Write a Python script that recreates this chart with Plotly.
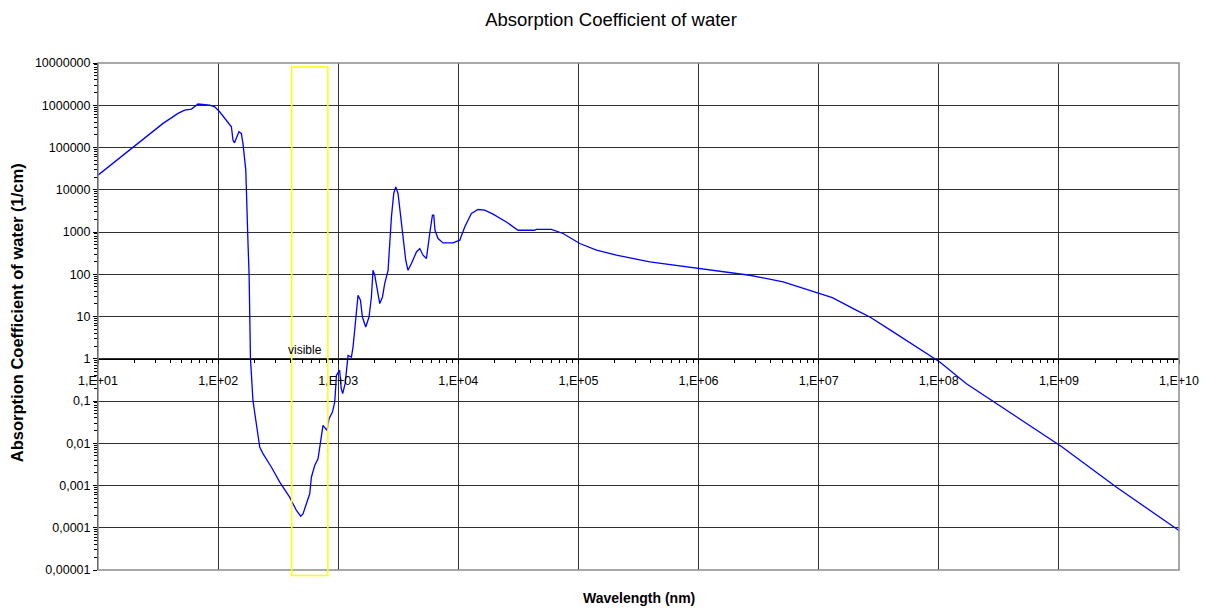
import plotly.graph_objects as go

# ---- data (wavelength in nm, absorption in 1/cm) ----
wavelength_nm = [
    10, 13.8, 19.6, 24.5, 34.8, 46.4, 52.7, 60.0, 68.0, 85.1,
    93.7, 103, 117, 129, 133, 137, 149, 156, 161, 166,
    170, 172, 174, 177, 181, 183, 186, 195, 208, 222,
    237, 278, 326, 394, 449, 487, 509, 544, 579, 598,
    637, 679, 702, 724, 747, 807, 838, 895, 935, 953,
    966, 1000, 1028, 1059, 1089, 1143, 1177, 1207, 1288, 1328,
    1371, 1418, 1462, 1531, 1590, 1694, 1805, 1889, 1949, 2014,
    2104, 2217, 2336, 2438, 2600, 2685, 2774, 2899, 3012, 3148,
    3296, 3466, 3648, 3811, 4070, 4480, 4773, 5085, 5425, 5779,
    6086, 6238, 6395, 6776, 7462, 9036, 10280, 11300, 12850, 14590,
    16590, 19450, 25120, 31410, 43250, 44670, 59540, 74470, 102600, 141300,
    207000, 392600, 1.023e6, 2.67e6, 5.06e6, 1.02e7, 1.30e7, 2.07e7, 2.67e7, 3.9e7,
    5.38e7, 7.2e7, 1.02e8, 1.70e8, 3.02e8, 1.05e9, 3.02e9, 1.0e10,
]
absorption_per_cm = [
    22200, 45800, 100500, 164000, 372000, 643000, 769000, 813000, 1.07e6, 1.01e6,
    921000, 701000, 446000, 310000, 150000, 129000, 236000, 216000, 125000, 60200,
    29100, 9790, 1590, 640, 104, 14.0, 1.0, 0.103, 0.029, 0.0081,
    0.0056, 0.0027, 0.0012, 0.00053, 0.000256, 0.000187, 0.000213, 0.000368, 0.000636, 0.00157,
    0.00298, 0.0043, 0.0081, 0.0168, 0.0264, 0.0201, 0.0381, 0.0546, 0.094, 0.213,
    0.404, 0.476, 0.531, 0.199, 0.149, 0.261, 0.778, 1.20, 1.10, 1.89,
    4.71, 11.7, 31.8, 24.2, 9.73, 5.64, 9.73, 29.0, 124, 94.7,
    41.8, 20.2, 29.0, 60.2, 124, 534, 2280, 8170, 11700, 8170,
    2740, 640, 215, 124, 179, 337, 406, 282, 235, 921,
    2500, 2500, 1100, 701, 552, 552, 640, 1320, 2740, 3410,
    3290, 2640, 1730, 1100, 1100, 1160, 1160, 921, 534, 371,
    282, 196, 134, 94.7, 65.7, 35.5, 28.0, 14.0, 9.73, 4.9,
    2.73, 1.6, 0.835, 0.257, 0.0863, 0.0084, 0.00091, 0.000086,
]

x_tick_values = [1e1, 1e2, 1e3, 1e4, 1e5, 1e6, 1e7, 1e8, 1e9, 1e10]
x_tick_labels = ["1,E+01", "1,E+02", "1,E+03", "1,E+04", "1,E+05",
                 "1,E+06", "1,E+07", "1,E+08", "1,E+09", "1,E+10"]
y_tick_values = [1e-5, 1e-4, 1e-3, 1e-2, 1e-1, 1, 10, 100, 1e3, 1e4, 1e5, 1e6, 1e7]
y_tick_labels = ["0,00001", "0,0001", "0,001", "0,01", "0,1", "1", "10", "100",
                 "1000", "10000", "100000", "1000000", "10000000"]

visible_band_nm = [410, 820]
visible_label = "visible"

chart_title = "Absorption Coefficient of water"
x_title = "Wavelength (nm)"
y_title = "Absorption Coefficient of water (1/cm)"

# minor tick positions (2..9 in each decade)
x_minor = [m * 10 ** e for e in range(1, 10) for m in range(2, 10)]
y_minor = [m * 10.0 ** e for e in range(-5, 7) for m in range(2, 10)]

FONT = "Liberation Sans, Arial, sans-serif"

# the page body adds an 8 px margin, so the figure is sized to fit the window
W, H = 1203, 600
ML, MR, MT, MB = 90, 30, 55, 38
PW, PH = W - ML - MR, H - MT - MB

fig = go.Figure()
fig.add_trace(go.Scatter(
    x=wavelength_nm, y=absorption_per_cm, mode="lines",
    line=dict(color="#0000FF", width=1.3), showlegend=False,
    hoverinfo="skip",
))

fig.update_layout(
    width=W, height=H,
    margin=dict(l=ML, r=MR, t=MT, b=MB, pad=0),
    paper_bgcolor="white", plot_bgcolor="white",
    font=dict(family=FONT, color="black", size=12),
    title=dict(text=chart_title, x=603 / W, xref="container", xanchor="center",
               y=1 - 12 / H, yref="container", yanchor="middle",
               font=dict(family=FONT, size=18.5, color="black")),
    xaxis=dict(
        type="log", range=[1, 10], tickmode="array",
        tickvals=x_tick_values, ticktext=x_tick_labels,
        showgrid=True, gridcolor="#303030", gridwidth=1,
        showline=True, linecolor="black", linewidth=1,
        ticks="outside", ticklen=4, tickcolor="black", tickwidth=1,
        minor=dict(tickmode="array", tickvals=x_minor, ticks="outside", ticklen=3,
                   tickcolor="black", showgrid=False),
        tickfont=dict(family=FONT, size=12.5, color="black"),
        ticklabelstandoff=6,
        anchor="free", position=5 / 12, zeroline=False,
    ),
    yaxis=dict(
        type="log", range=[-5, 7], tickmode="array",
        tickvals=y_tick_values, ticktext=y_tick_labels,
        showgrid=True, gridcolor="#303030", gridwidth=1,
        showline=True, linecolor="black", linewidth=1,
        ticks="outside", ticklen=4, tickcolor="black", tickwidth=1,
        minor=dict(tickmode="array", tickvals=y_minor, ticks="outside", ticklen=3,
                   tickcolor="black", showgrid=False),
        tickfont=dict(family=FONT, size=12.5, color="black"),
        zeroline=False,
    ),
)

# plot border
fig.add_shape(type="rect", xref="x domain", yref="y domain", x0=0, x1=1, y0=0, y1=1,
              line=dict(color="#8c8c8c", width=1.5), layer="above")

# visible band rectangle
fig.add_shape(type="rect", xref="x", yref="y domain",
              x0=visible_band_nm[0], x1=visible_band_nm[1], y0=-0.011, y1=0.992,
              line=dict(color="#FFFF00", width=1.5), fillcolor="rgba(0,0,0,0)", layer="above")

fig.add_annotation(text=visible_label, xref="x", yref="y", x=2.725, y=0.2,
                   showarrow=False, font=dict(family=FONT, size=12, color="black"),
                   xanchor="center", yanchor="middle")

fig.add_annotation(text="<b>" + x_title + "</b>", xref="paper", yref="paper",
                   x=(640 - 98) / PW, y=-(598 - 570) / PH,
                   showarrow=False, font=dict(family=FONT, size=14, color="black"),
                   xanchor="center", yanchor="middle")
fig.add_annotation(text="<b>" + y_title + "</b>", xref="paper", yref="paper",
                   x=-(98 - 17) / PW, y=(570 - 313) / PH, textangle=-90,
                   showarrow=False, font=dict(family=FONT, size=16.5, color="black"),
                   xanchor="center", yanchor="middle")

fig.write_html("out.html")
